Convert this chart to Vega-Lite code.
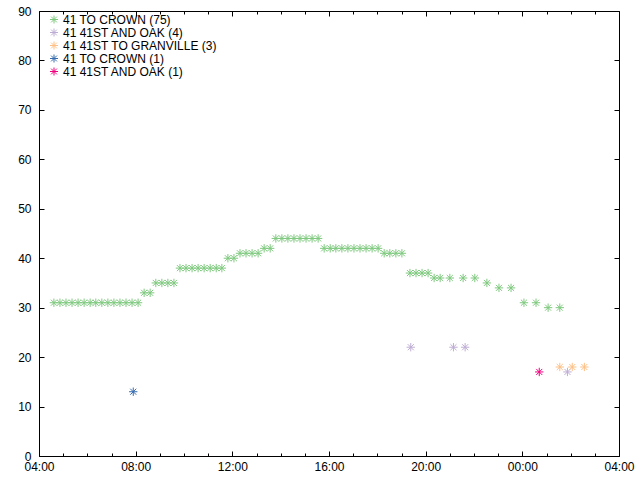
{
  "$schema": "https://vega.github.io/schema/vega-lite/v6.json",
  "width": 580,
  "height": 445,
  "autosize": "none",
  "padding": {"left": 39, "top": 11, "right": 21, "bottom": 24},
  "background": "white",
  "config": {
    "view": {"stroke": "black", "strokeWidth": 1},
    "font": "Liberation Sans",
    "axis": {"domain": false, "tickColor": "black", "labelColor": "black", "labelFont": "Liberation Sans", "labelFontSize": 12, "grid": false, "title": null}
  },
  "data": {"values": [
    {"t": "2024-01-01T04:37", "v": 31, "s": "41 TO CROWN (75)"},
    {"t": "2024-01-01T04:52", "v": 31, "s": "41 TO CROWN (75)"},
    {"t": "2024-01-01T05:07", "v": 31, "s": "41 TO CROWN (75)"},
    {"t": "2024-01-01T05:22", "v": 31, "s": "41 TO CROWN (75)"},
    {"t": "2024-01-01T05:37", "v": 31, "s": "41 TO CROWN (75)"},
    {"t": "2024-01-01T05:52", "v": 31, "s": "41 TO CROWN (75)"},
    {"t": "2024-01-01T06:07", "v": 31, "s": "41 TO CROWN (75)"},
    {"t": "2024-01-01T06:21", "v": 31, "s": "41 TO CROWN (75)"},
    {"t": "2024-01-01T06:36", "v": 31, "s": "41 TO CROWN (75)"},
    {"t": "2024-01-01T06:51", "v": 31, "s": "41 TO CROWN (75)"},
    {"t": "2024-01-01T07:06", "v": 31, "s": "41 TO CROWN (75)"},
    {"t": "2024-01-01T07:21", "v": 31, "s": "41 TO CROWN (75)"},
    {"t": "2024-01-01T07:36", "v": 31, "s": "41 TO CROWN (75)"},
    {"t": "2024-01-01T07:51", "v": 31, "s": "41 TO CROWN (75)"},
    {"t": "2024-01-01T08:06", "v": 31, "s": "41 TO CROWN (75)"},
    {"t": "2024-01-01T08:21", "v": 33, "s": "41 TO CROWN (75)"},
    {"t": "2024-01-01T08:36", "v": 33, "s": "41 TO CROWN (75)"},
    {"t": "2024-01-01T08:50", "v": 35, "s": "41 TO CROWN (75)"},
    {"t": "2024-01-01T09:05", "v": 35, "s": "41 TO CROWN (75)"},
    {"t": "2024-01-01T09:20", "v": 35, "s": "41 TO CROWN (75)"},
    {"t": "2024-01-01T09:35", "v": 35, "s": "41 TO CROWN (75)"},
    {"t": "2024-01-01T09:50", "v": 38, "s": "41 TO CROWN (75)"},
    {"t": "2024-01-01T10:05", "v": 38, "s": "41 TO CROWN (75)"},
    {"t": "2024-01-01T10:20", "v": 38, "s": "41 TO CROWN (75)"},
    {"t": "2024-01-01T10:35", "v": 38, "s": "41 TO CROWN (75)"},
    {"t": "2024-01-01T10:50", "v": 38, "s": "41 TO CROWN (75)"},
    {"t": "2024-01-01T11:05", "v": 38, "s": "41 TO CROWN (75)"},
    {"t": "2024-01-01T11:20", "v": 38, "s": "41 TO CROWN (75)"},
    {"t": "2024-01-01T11:34", "v": 38, "s": "41 TO CROWN (75)"},
    {"t": "2024-01-01T11:49", "v": 40, "s": "41 TO CROWN (75)"},
    {"t": "2024-01-01T12:04", "v": 40, "s": "41 TO CROWN (75)"},
    {"t": "2024-01-01T12:19", "v": 41, "s": "41 TO CROWN (75)"},
    {"t": "2024-01-01T12:34", "v": 41, "s": "41 TO CROWN (75)"},
    {"t": "2024-01-01T12:49", "v": 41, "s": "41 TO CROWN (75)"},
    {"t": "2024-01-01T13:04", "v": 41, "s": "41 TO CROWN (75)"},
    {"t": "2024-01-01T13:19", "v": 42, "s": "41 TO CROWN (75)"},
    {"t": "2024-01-01T13:34", "v": 42, "s": "41 TO CROWN (75)"},
    {"t": "2024-01-01T13:48", "v": 44, "s": "41 TO CROWN (75)"},
    {"t": "2024-01-01T14:03", "v": 44, "s": "41 TO CROWN (75)"},
    {"t": "2024-01-01T14:18", "v": 44, "s": "41 TO CROWN (75)"},
    {"t": "2024-01-01T14:33", "v": 44, "s": "41 TO CROWN (75)"},
    {"t": "2024-01-01T14:48", "v": 44, "s": "41 TO CROWN (75)"},
    {"t": "2024-01-01T15:03", "v": 44, "s": "41 TO CROWN (75)"},
    {"t": "2024-01-01T15:18", "v": 44, "s": "41 TO CROWN (75)"},
    {"t": "2024-01-01T15:33", "v": 44, "s": "41 TO CROWN (75)"},
    {"t": "2024-01-01T15:48", "v": 42, "s": "41 TO CROWN (75)"},
    {"t": "2024-01-01T16:03", "v": 42, "s": "41 TO CROWN (75)"},
    {"t": "2024-01-01T16:17", "v": 42, "s": "41 TO CROWN (75)"},
    {"t": "2024-01-01T16:32", "v": 42, "s": "41 TO CROWN (75)"},
    {"t": "2024-01-01T16:47", "v": 42, "s": "41 TO CROWN (75)"},
    {"t": "2024-01-01T17:02", "v": 42, "s": "41 TO CROWN (75)"},
    {"t": "2024-01-01T17:17", "v": 42, "s": "41 TO CROWN (75)"},
    {"t": "2024-01-01T17:32", "v": 42, "s": "41 TO CROWN (75)"},
    {"t": "2024-01-01T17:47", "v": 42, "s": "41 TO CROWN (75)"},
    {"t": "2024-01-01T18:02", "v": 42, "s": "41 TO CROWN (75)"},
    {"t": "2024-01-01T18:17", "v": 41, "s": "41 TO CROWN (75)"},
    {"t": "2024-01-01T18:31", "v": 41, "s": "41 TO CROWN (75)"},
    {"t": "2024-01-01T18:46", "v": 41, "s": "41 TO CROWN (75)"},
    {"t": "2024-01-01T19:01", "v": 41, "s": "41 TO CROWN (75)"},
    {"t": "2024-01-01T19:21", "v": 37, "s": "41 TO CROWN (75)"},
    {"t": "2024-01-01T19:36", "v": 37, "s": "41 TO CROWN (75)"},
    {"t": "2024-01-01T19:51", "v": 37, "s": "41 TO CROWN (75)"},
    {"t": "2024-01-01T20:06", "v": 37, "s": "41 TO CROWN (75)"},
    {"t": "2024-01-01T20:21", "v": 36, "s": "41 TO CROWN (75)"},
    {"t": "2024-01-01T20:36", "v": 36, "s": "41 TO CROWN (75)"},
    {"t": "2024-01-01T21:00", "v": 36, "s": "41 TO CROWN (75)"},
    {"t": "2024-01-01T21:33", "v": 36, "s": "41 TO CROWN (75)"},
    {"t": "2024-01-01T22:02", "v": 36, "s": "41 TO CROWN (75)"},
    {"t": "2024-01-01T22:32", "v": 35, "s": "41 TO CROWN (75)"},
    {"t": "2024-01-01T23:02", "v": 34, "s": "41 TO CROWN (75)"},
    {"t": "2024-01-01T23:32", "v": 34, "s": "41 TO CROWN (75)"},
    {"t": "2024-01-02T00:04", "v": 31, "s": "41 TO CROWN (75)"},
    {"t": "2024-01-02T00:34", "v": 31, "s": "41 TO CROWN (75)"},
    {"t": "2024-01-02T01:04", "v": 30, "s": "41 TO CROWN (75)"},
    {"t": "2024-01-02T01:33", "v": 30, "s": "41 TO CROWN (75)"},
    {"t": "2024-01-01T19:23", "v": 22, "s": "41 41ST AND OAK (4)"},
    {"t": "2024-01-01T21:09", "v": 22, "s": "41 41ST AND OAK (4)"},
    {"t": "2024-01-01T21:38", "v": 22, "s": "41 41ST AND OAK (4)"},
    {"t": "2024-01-02T01:52", "v": 17, "s": "41 41ST AND OAK (4)"},
    {"t": "2024-01-02T01:33", "v": 18, "s": "41 41ST TO GRANVILLE (3)"},
    {"t": "2024-01-02T02:04", "v": 18, "s": "41 41ST TO GRANVILLE (3)"},
    {"t": "2024-01-02T02:34", "v": 18, "s": "41 41ST TO GRANVILLE (3)"},
    {"t": "2024-01-01T07:54", "v": 13, "s": "41 TO CROWN (1)"},
    {"t": "2024-01-02T00:42", "v": 17, "s": "41 41ST AND OAK (1)"}
  ]},
  "layer": [
    {
      "mark": {"type": "point", "filled": false, "strokeWidth": 1, "opacity": 1,
        "shape": "M-1,0L1,0M0,-1L0,1M-0.72,-0.72L0.72,0.72M-0.72,0.72L0.72,-0.72", "size": 70},
      "encoding": {
        "x": {"field": "t", "type": "temporal",
          "scale": {"domain": [{"year": 2024, "month": 1, "date": 1, "hours": 4}, {"year": 2024, "month": 1, "date": 2, "hours": 4}], "nice": false},
          "axis": {"orient": "bottom", "format": "%H:%M",
            "values": [
              {"year": 2024, "month": 1, "date": 1, "hours": 4},
              {"year": 2024, "month": 1, "date": 1, "hours": 8},
              {"year": 2024, "month": 1, "date": 1, "hours": 12},
              {"year": 2024, "month": 1, "date": 1, "hours": 16},
              {"year": 2024, "month": 1, "date": 1, "hours": 20},
              {"year": 2024, "month": 1, "date": 2, "hours": 0},
              {"year": 2024, "month": 1, "date": 2, "hours": 4}],
            "labelOverlap": false, "labelFlush": false, "labelPadding": 5, "tickSize": 5, "offset": -5}},
        "y": {"field": "v", "type": "quantitative",
          "scale": {"domain": [0, 90], "nice": false},
          "axis": {"orient": "left", "values": [0,10,20,30,40,50,60,70,80,90], "tickSize": 5, "offset": -5, "labelPadding": 8}},
        "color": {"field": "s", "type": "nominal",
          "scale": {"domain": ["41 TO CROWN (75)", "41 41ST AND OAK (4)", "41 41ST TO GRANVILLE (3)", "41 TO CROWN (1)", "41 41ST AND OAK (1)"],
            "range": ["#7fc97f", "#beaed4", "#fdc086", "#386cb0", "#f0027f"]},
          "legend": {"title": null, "orient": "none", "legendX": 9, "legendY": 4,
            "labelFont": "Liberation Sans", "labelFontSize": 12, "labelColor": "black",
            "symbolType": "M-1,0L1,0M0,-1L0,1M-0.72,-0.72L0.72,0.72M-0.72,0.72L0.72,-0.72",
            "symbolSize": 64, "symbolStrokeWidth": 1, "rowPadding": 0, "clipHeight": 9, "labelOffset": 3}}
      }
    },
    {
      "mark": {"type": "point", "opacity": 0},
      "encoding": {
        "x": {"field": "t", "type": "temporal",
          "axis": {"orient": "top", "tickCount": 24, "labels": false, "tickSize": 3, "offset": -3}},
        "y": {"field": "v", "type": "quantitative",
          "axis": {"orient": "right", "values": [0,10,20,30,40,50,60,70,80,90], "labels": false, "tickSize": 5, "offset": -5}}
      }
    },
    {
      "mark": {"type": "point", "opacity": 0},
      "encoding": {
        "x": {"field": "t", "type": "temporal",
          "axis": {"orient": "bottom", "tickCount": 24, "labels": false, "tickSize": 3, "offset": -3}},
        "y": {"field": "v", "type": "quantitative", "axis": null}
      }
    },
    {
      "mark": {"type": "point", "opacity": 0},
      "encoding": {
        "x": {"field": "t", "type": "temporal",
          "axis": {"orient": "top", "labels": false, "tickSize": 5, "offset": -5,
            "values": [
              {"year": 2024, "month": 1, "date": 1, "hours": 8},
              {"year": 2024, "month": 1, "date": 1, "hours": 12},
              {"year": 2024, "month": 1, "date": 1, "hours": 16},
              {"year": 2024, "month": 1, "date": 1, "hours": 20},
              {"year": 2024, "month": 1, "date": 2, "hours": 0}]}},
        "y": {"field": "v", "type": "quantitative", "axis": null}
      }
    }
  ],
  "resolve": {"axis": {"x": "independent", "y": "independent"}}
}
